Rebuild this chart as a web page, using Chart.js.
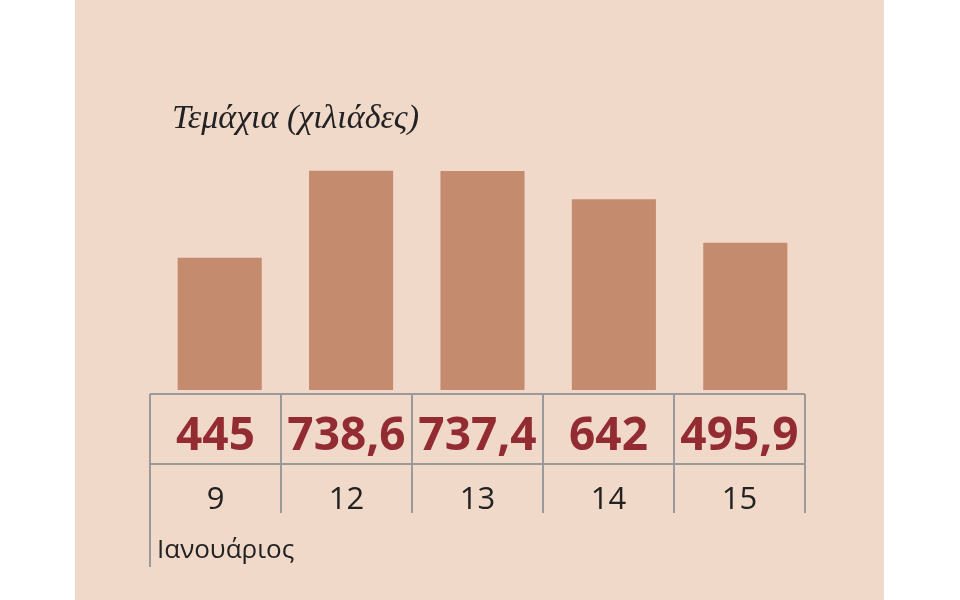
<!DOCTYPE html>
<html><head><meta charset="utf-8">
<script src="https://cdn.jsdelivr.net/npm/chart.js@4"></script>
<style>html,body{margin:0;background:#fff}#wrap{position:absolute;left:0;top:0;width:960px;height:600px}</style>
</head><body><div id="wrap"><canvas id="c" width="960" height="600"></canvas></div>
<script>
const categories = ['9','12','13','14','15'];
const values = [445, 738.6, 737.4, 642, 495.9];
const valueLabels = ['445','738,6','737,4','642','495,9'];
const title = 'Τεμάχια (χιλιάδες)';
const monthLabel = 'Ιανουάριος';

const bgPlugin = {
  id:'bg',
  beforeDraw(chart){
    const c = chart.ctx;
    c.save(); c.fillStyle='#f1d9ca'; c.fillRect(75,0,809,600); c.restore();
  },
  afterDraw(chart){
    const c = chart.ctx, x = chart.scales.x;
    const n = categories.length;
    const step = (x.getPixelForValue(1)-x.getPixelForValue(0));
    const left = x.getPixelForValue(0)-step/2 - 4;
    const right = x.getPixelForValue(n-1)+step/2 - 6;
    const colW = (right-left)/n;
    c.save();
    c.strokeStyle='#9a9a9a'; c.lineWidth=2;
    c.beginPath();
    c.moveTo(left,394); c.lineTo(right,394);
    c.moveTo(left,464); c.lineTo(right,464);
    for(let i=0;i<=n;i++){ const xx=left+i*colW; c.moveTo(xx,394); c.lineTo(xx, i===0?567:513); }
    c.stroke();
    c.textAlign='center'; c.textBaseline='alphabetic';
    for(let i=0;i<n;i++){
      const cx = left+(i+0.5)*colW;
      c.fillStyle='#932c32'; c.font='bold 46px "Open Sans", Lato, sans-serif';
      c.fillText(valueLabels[i], cx, 450);
      c.fillStyle='#222'; c.font='31px "Open Sans", Lato, sans-serif';
      c.fillText(categories[i], cx, 509);
    }
    c.textAlign='left'; c.fillStyle='#222'; c.font='26px "Open Sans", Lato, sans-serif';
    c.fillText(monthLabel, 157, 558);
    c.fillStyle='#222'; c.font='italic 34px "Liberation Serif", "DejaVu Serif", serif';
    c.fillText(title, 172, 128);
    c.restore();
  }
};

new Chart(document.getElementById('c'), {
  type:'bar',
  data:{labels:categories, datasets:[{data:values, backgroundColor:'#c48b6f', borderWidth:0, categoryPercentage:0.64, barPercentage:1}]},
  options:{
    responsive:false, animation:false,
    layout:{padding:{left:154,right:149,top:93,bottom:210}},
    plugins:{legend:{display:false}, tooltip:{enabled:false}},
    scales:{
      x:{display:false},
      y:{display:false, min:0, max:1000}
    }
  },
  plugins:[bgPlugin]
});
</script></body></html>
